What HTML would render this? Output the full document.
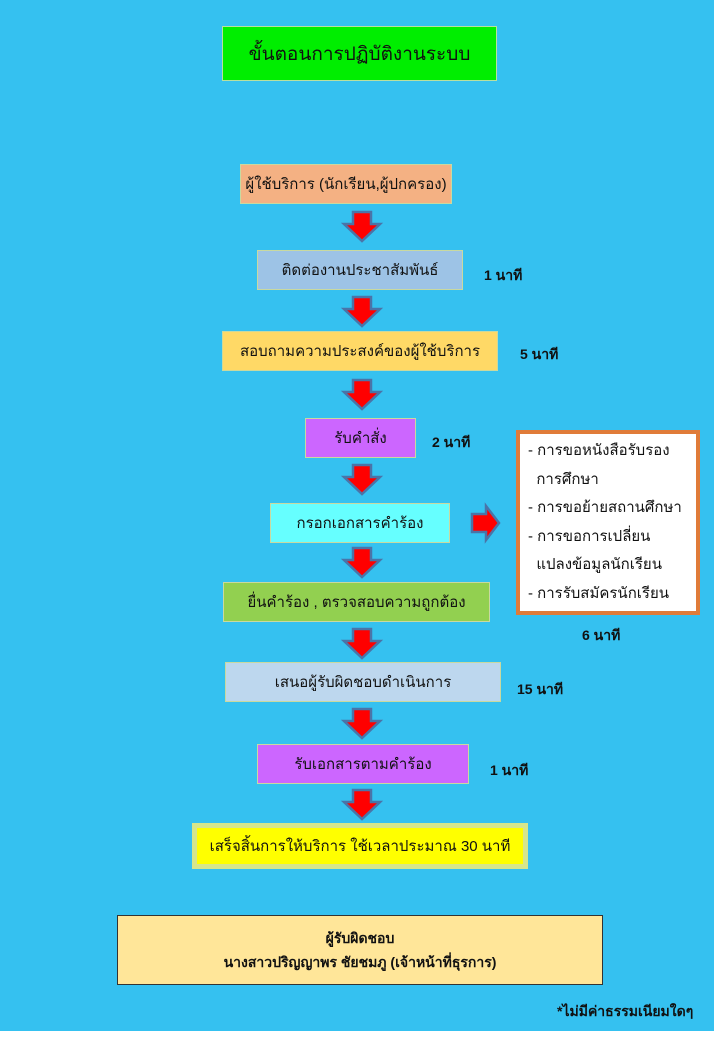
<!DOCTYPE html>
<html><head><meta charset="utf-8"><style>
body{margin:0;width:720px;height:1040px;background:#fff;position:relative;overflow:hidden;font-family:"Liberation Sans",sans-serif;color:#111}
#bg{position:absolute;left:0;top:0;width:714px;height:1031px;background:#35c1f0}
.b{position:absolute;box-sizing:border-box;display:flex;align-items:center;justify-content:center;font-size:15px;border:1px solid #c9d9a0}
.t{position:absolute;font-size:14px;font-weight:bold}
svg.a{position:absolute}
</style></head><body>
<div id="bg"></div>
<div class="b" style="left:222px;top:26px;width:275px;height:55px;background:#00ee00;font-size:19px;border-color:#b8e0a0">ขั้นตอนการปฏิบัติงานระบบ</div>
<div class="b" style="left:240px;top:164px;width:212px;height:40px;background:#f4b183">ผู้ใช้บริการ (นักเรียน,ผู้ปกครอง)</div>
<div class="b" style="left:257px;top:250px;width:206px;height:40px;background:#9dc3e6">ติดต่องานประชาสัมพันธ์</div>
<div class="t" style="left:484px;top:265px">1 นาที</div>
<div class="b" style="left:222px;top:331px;width:276px;height:40px;background:#ffd966">สอบถามความประสงค์ของผู้ใช้บริการ</div>
<div class="t" style="left:520px;top:344px">5 นาที</div>
<div class="b" style="left:305px;top:418px;width:111px;height:40px;background:#cc66ff">รับคำสั่ง</div>
<div class="t" style="left:432px;top:432px">2 นาที</div>
<div class="b" style="left:270px;top:503px;width:180px;height:40px;background:#66ffff">กรอกเอกสารคำร้อง</div>
<div class="b" style="left:223px;top:582px;width:267px;height:40px;background:#92d050">ยื่นคำร้อง , ตรวจสอบความถูกต้อง</div>
<div class="b" style="left:225px;top:662px;width:276px;height:40px;background:#bdd7ee">เสนอผู้รับผิดชอบดำเนินการ</div>
<div class="t" style="left:517px;top:679px">15 นาที</div>
<div class="b" style="left:257px;top:744px;width:212px;height:40px;background:#cc66ff">รับเอกสารตามคำร้อง</div>
<div class="t" style="left:490px;top:760px">1 นาที</div>
<div class="b" style="left:192px;top:823px;width:336px;height:46px;background:#ffff00;border:5px solid #d6e68c">เสร็จสิ้นการให้บริการ ใช้เวลาประมาณ 30 นาที</div>
<div style="position:absolute;left:516px;top:430px;width:184px;height:185px;box-sizing:border-box;border:4px solid #e07b39;background:#fff;font-size:15px;line-height:28.5px;padding:3px 0 0 8px">- การขอหนังสือรับรอง<br>&nbsp;&nbsp;การศึกษา<br>- การขอย้ายสถานศึกษา<br>- การขอการเปลี่ยน<br>&nbsp;&nbsp;แปลงข้อมูลนักเรียน<br>- การรับสมัครนักเรียน</div>
<div class="t" style="left:582px;top:625px">6 นาที</div>
<div style="position:absolute;left:117px;top:915px;width:486px;height:70px;box-sizing:border-box;background:#ffe699;border:1px solid #333;font-weight:bold;font-size:14px;line-height:24px;text-align:center;padding-top:10px">ผู้รับผิดชอบ<br>นางสาวปริญญาพร ชัยชมภู (เจ้าหน้าที่ธุรการ)</div>
<div class="t" style="left:557px;top:1001px">*ไม่มีค่าธรรมเนียมใดๆ</div>
<svg width="720" height="1040" style="position:absolute;left:0;top:0">
<defs><g id="d"><polygon points="-9,0 9,0 9,12 18,12 0,29 -18,12 -9,12" fill="#ff0000" stroke="#4a74a8" stroke-width="2.5"/></g></defs>
<use href="#d" x="362" y="212"/>
<use href="#d" x="362" y="297"/>
<use href="#d" x="362" y="380"/>
<use href="#d" x="362" y="465"/>
<use href="#d" x="362" y="548"/>
<use href="#d" x="362" y="629"/>
<use href="#d" x="362" y="709"/>
<use href="#d" x="362" y="790"/>
<polygon points="472,514 486,514 486,506 499,523 486,540 486,532 472,532" fill="#ff0000" stroke="#4a74a8" stroke-width="2.5"/>
</svg>
</body></html>
